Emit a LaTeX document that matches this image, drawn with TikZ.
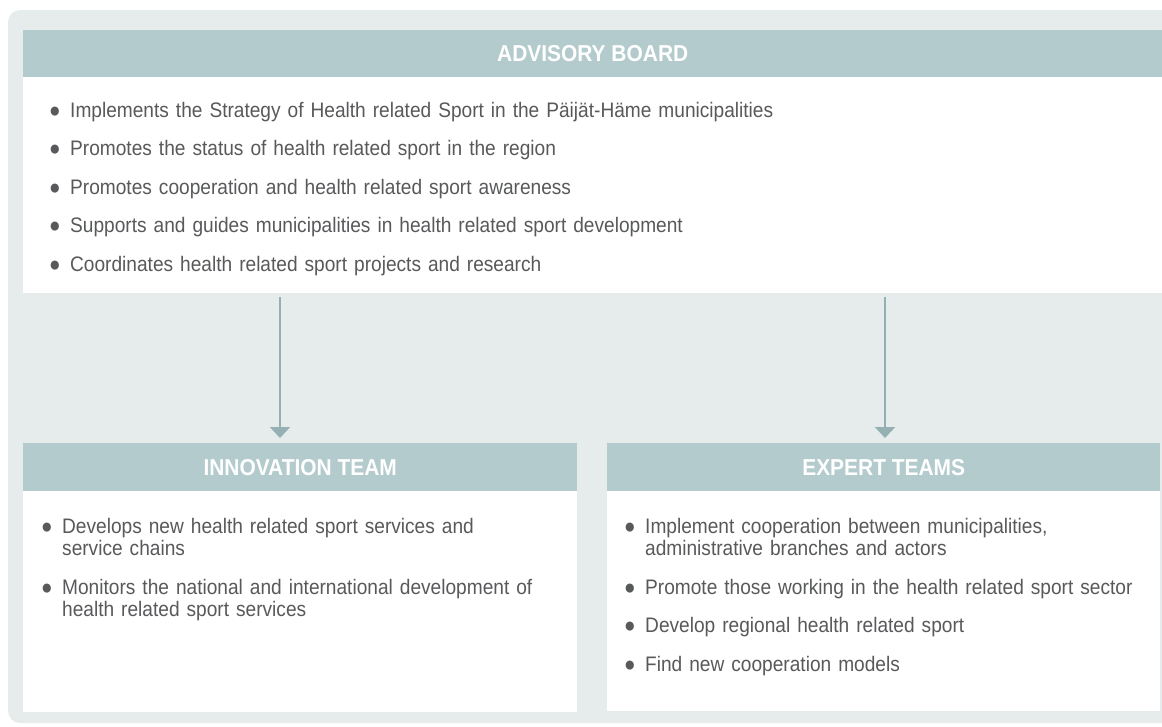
\documentclass[tikz,border=0pt]{standalone}
\usepackage{fontspec}
\setmainfont{Liberation Sans}[FakeStretch=0.91]
\usetikzlibrary{arrows.meta,positioning}
\definecolor{panelbg}{HTML}{E6ECEC}
\definecolor{headfill}{HTML}{B4CBCD}
\definecolor{arrowcol}{HTML}{95B0B2}
\definecolor{textcol}{HTML}{58595B}
\newcommand{\bul}{\llap{●\hspace{9.5pt}}}
\tikzset{
  header/.style={fill=headfill, text=white, anchor=north west, inner sep=0pt,
    font=\fontsize{23}{26}\selectfont\bfseries},
  item/.style={anchor=base west, text=textcol, inner sep=0pt, text width=1050pt,
    align=left, font=\fontsize{21}{22.5}\selectfont},
  flow/.style={draw=arrowcol, line width=2.6pt, shorten >=5pt,
    -{Triangle[width=20pt,length=11pt]}},
}
\begin{document}
\begin{tikzpicture}[x=1pt,y=-1pt]
\useasboundingbox (0,0) rectangle (1162,726);
% background and white panels
\fill[panelbg, rounded corners=12pt] (8,10) rectangle (1190,723);
\fill[white] (23,77) rectangle (1162,293);
\fill[white] (23,491) rectangle (577,712);
\fill[white] (607,491) rectangle (1160,711);

% headers
\node[header, minimum width=1139pt, minimum height=47pt] (advisory) at (23,30) {ADVISORY BOARD};
\node[header, minimum width=554pt, minimum height=48pt] (innovation) at (23,443) {INNOVATION TEAM};
\node[header, minimum width=553pt, minimum height=48pt] (expert) at (607,443) {EXPERT TEAMS};

% advisory board tasks
\node[item] (adv1) at (70,117.3) {\bul Implements the Strategy of Health related Sport in the Päijät-Häme municipalities};
\node[item] (adv2) at (70,155.8) {\bul Promotes the status of health related sport in the region};
\node[item] (adv3) at (70,194.3) {\bul Promotes cooperation and health related sport awareness};
\node[item] (adv4) at (70,232.8) {\bul Supports and guides municipalities in health related sport development};
\node[item] (adv5) at (70,271.3) {\bul Coordinates health related sport projects and research};

% innovation team tasks
\node[item] (inn1) at (62,533.3) {\bul Develops new health related sport services and\\ service chains};
\node[item] (inn2) at (62,594.3) {\bul Monitors the national and international development of\\ health related sport services};

% expert teams tasks
\node[item] (exp1) at (645,533.3) {\bul Implement cooperation between municipalities,\\ administrative branches and actors};
\node[item] (exp2) at (645,594.3) {\bul Promote those working in the health related sport sector};
\node[item] (exp3) at (645,632.8) {\bul Develop regional health related sport};
\node[item] (exp4) at (645,671.3) {\bul Find new cooperation models};

% arrows
\coordinate (advOut1) at (280,297);
\coordinate (advOut2) at (885,297);
\draw[flow] (advOut1) -- (advOut1 |- innovation.north);
\draw[flow] (advOut2) -- (advOut2 |- expert.north);
\end{tikzpicture}
\end{document}
